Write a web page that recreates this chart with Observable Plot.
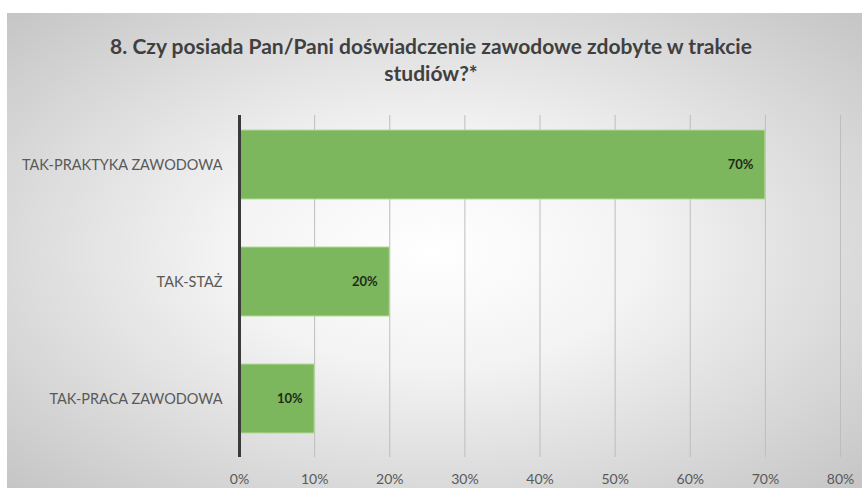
<!DOCTYPE html>
<html>
<head>
<meta charset="utf-8">
<script src="https://cdn.jsdelivr.net/npm/d3@7"></script>
<script src="https://cdn.jsdelivr.net/npm/@observablehq/plot@0.6"></script>
<style>
  html, body { margin: 0; padding: 0; background: #ffffff; }
  #wrap { position: relative; width: 862px; height: 488px; overflow: hidden; font-family: Lato, "Open Sans", sans-serif; }
  #bg { position: absolute; left: 7px; top: 13px; right: 0; bottom: 0;
        background: radial-gradient(ellipse farthest-corner at 50% 50%, #ffffff 0%, #f3f3f3 35%, #c5c5c5 100%); }
  #title { position: relative; height: 95px; box-sizing: border-box; padding-top: 32px; padding-left: 0px;
           text-align: center; font-weight: bold; font-size: 21px; line-height: 27px; color: #404040; }
  #chart { position: relative; }
</style>
</head>
<body>
<div id="wrap">
  <div id="bg"></div>
  <div id="title">8. Czy posiada Pan/Pani doświadczenie zawodowe zdobyte w trakcie<br>studiów?*</div>
  <div id="chart"></div>
</div>
<script>
const categories = ["TAK-PRAKTYKA ZAWODOWA", "TAK-STAŻ", "TAK-PRACA ZAWODOWA"];
const values = [0.70, 0.20, 0.10];
const xTicks = [0, 0.1, 0.2, 0.3, 0.4, 0.5, 0.6, 0.7, 0.8];

const data = categories.map((c, i) => ({cat: c, value: values[i]}));
const pct = d3.format(".0%");

const chart = Plot.plot({
  width: 862,
  height: 393,
  marginLeft: 239,
  marginRight: 22,
  marginTop: 11,
  marginBottom: 31,
  style: {background: "transparent", fontFamily: "Lato, 'Open Sans', sans-serif", fontSize: "14px", overflow: "visible"},
  x: {domain: [0, 0.8], label: null},
  y: {domain: categories, paddingInner: 0.41, paddingOuter: 0.205, label: null},
  marks: [
    Plot.ruleX(xTicks.slice(1), {stroke: "#bdbdbd", strokeWidth: 1, insetTop: 9}),
    Plot.barX(data, {x: "value", y: "cat", fill: "#7cb75d", stroke: "#b3da98", strokeWidth: 1}),
    Plot.ruleX([0], {stroke: "#3a3a3a", strokeWidth: 3, insetTop: 9}),
    Plot.text(data, {x: "value", y: "cat", text: d => pct(d.value), textAnchor: "end", dx: -12,
                     fontWeight: "bold", fontSize: 13, fill: "#1e2b18"}),
    Plot.axisX({ticks: xTicks, tickFormat: pct, tickSize: 0, tickPadding: 17, label: null, fill: "#595959", fontSize: 14}),
    Plot.axisY({tickSize: 0, tickPadding: 17, label: null, fill: "#595959", fontSize: 14.5})
  ]
});
document.getElementById("chart").appendChild(chart);
</script>
</body>
</html>
